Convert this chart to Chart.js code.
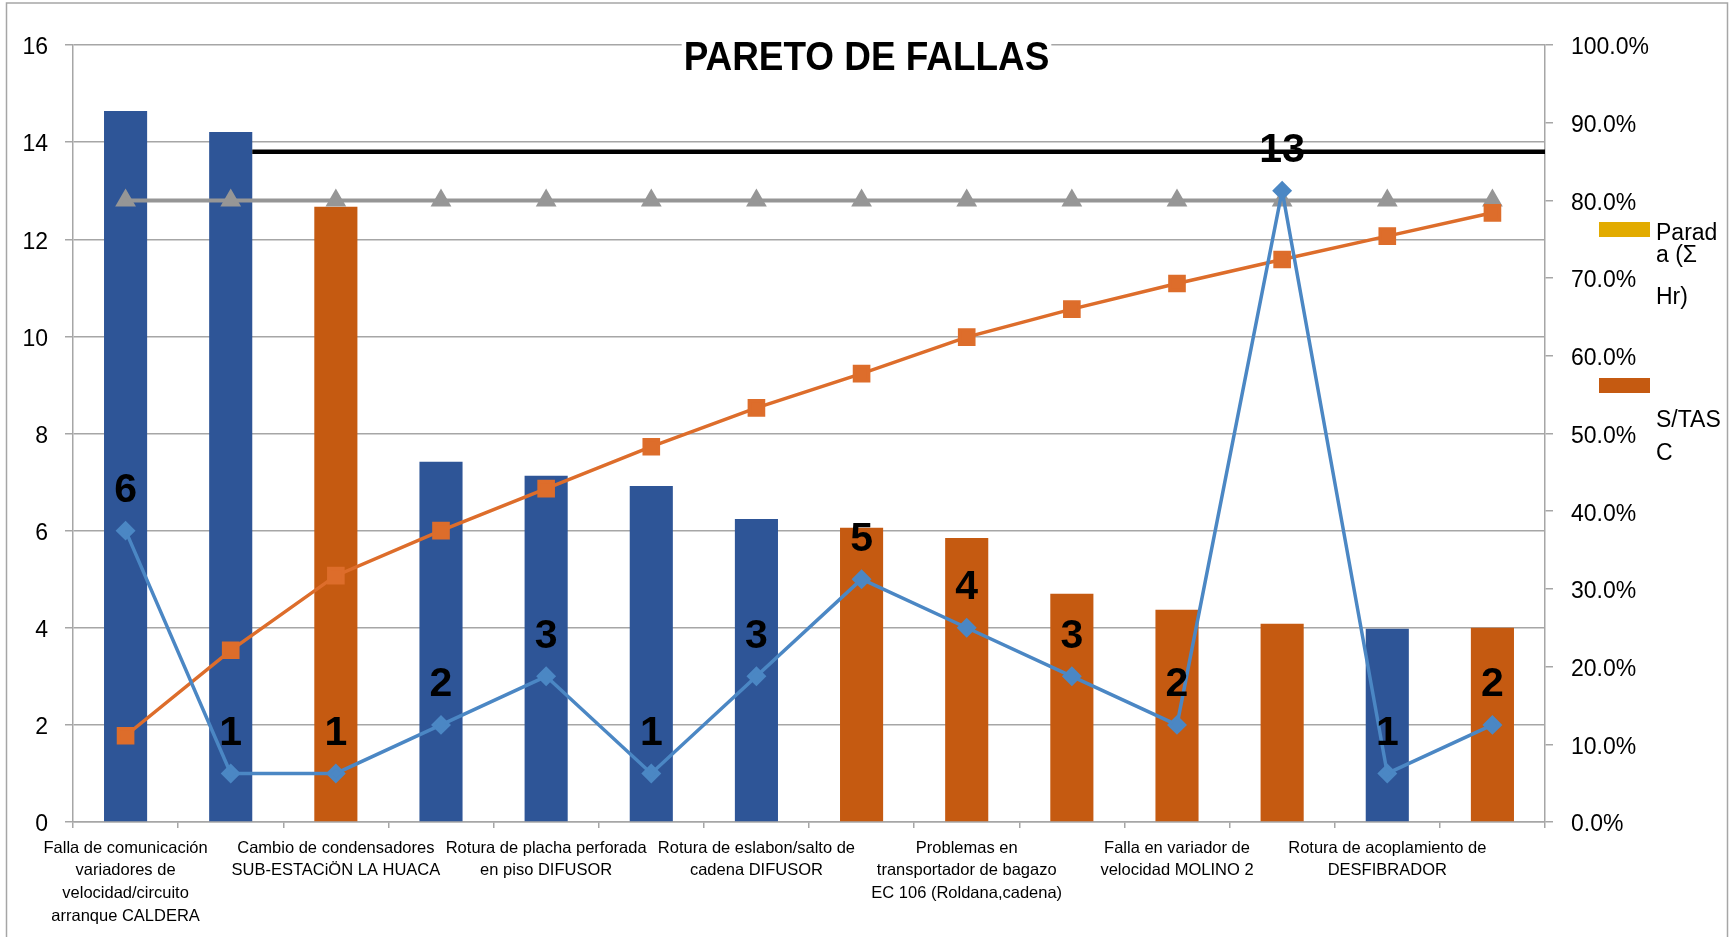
<!DOCTYPE html>
<html><head><meta charset="utf-8">
<script src="https://cdn.jsdelivr.net/npm/chart.js@4.4.0/dist/chart.umd.min.js"></script>
<style>html,body{margin:0;padding:0;background:#fff;overflow:hidden}canvas{display:block}</style>
</head><body>
<canvas id="c" width="1733" height="937"></canvas>
<script>
// ---- data ----
const categorias = [
  ["Falla de comunicación", "variadores de", "velocidad/circuito", "arranque CALDERA"],
  "",
  ["Cambio de condensadores", "SUB-ESTACiÖN LA HUACA"],
  "",
  ["Rotura de placha perforada", "en piso DIFUSOR"],
  "",
  ["Rotura de eslabon/salto de", "cadena DIFUSOR"],
  "",
  ["Problemas en", "transportador de bagazo", "EC 106 (Roldana,cadena)"],
  "",
  ["Falla en variador de", "velocidad MOLINO 2"],
  "",
  ["Rotura de acoplamiento de", "DESFIBRADOR"],
  ""
];
const paradaHoras = [14.64, 14.21, null, 7.42, 7.13, 6.92, 6.24, null, null, null, null, null, 3.98, null];
const stascHoras  = [null, null, 12.67, null, null, null, null, 6.06, 5.85, 4.70, 4.37, 4.08, null, 4.00];
const frecuencia  = [6, 1, 1, 2, 3, 1, 3, 5, 4, 3, 2, 13, 1, 2];
const acumulado   = [0.111, 0.221, 0.317, 0.375, 0.429, 0.483, 0.533, 0.577, 0.624, 0.660, 0.693, 0.724, 0.754, 0.784];
const limite80    = [0.8, 0.8, 0.8, 0.8, 0.8, 0.8, 0.8, 0.8, 0.8, 0.8, 0.8, 0.8, 0.8, 0.8];
const lineaNegra  = 13.8;
const ticksIzq    = [0, 2, 4, 6, 8, 10, 12, 14, 16];
const ticksDer    = [0, 0.1, 0.2, 0.3, 0.4, 0.5, 0.6, 0.7, 0.8, 0.9, 1.0];
const titulo      = "PARETO DE FALLAS";
const leyenda     = [
  {lines: ["Parad", "a (Σ", "Hr)"], color: "#E2AB00"},
  {lines: ["S/TAS", "C"], color: "#C55A11"}
];

const FONT = '"Liberation Sans", Arial, sans-serif';
const GRID = '#A6A6A6';

const extras = {
  id: 'extras',
  beforeDraw(chart) {
    const ctx = chart.ctx;
    ctx.save(); ctx.fillStyle = '#fff'; ctx.fillRect(0, 0, chart.width, chart.height); ctx.restore();
  },
  afterDatasetsDraw(chart) {
    const ctx = chart.ctx, ys = chart.scales.y, area = chart.chartArea;
    const bar = chart.getDatasetMeta(0).data[1];
    const py = ys.getPixelForValue(lineaNegra);
    ctx.save();
    ctx.strokeStyle = '#000'; ctx.lineWidth = 4.5;
    ctx.beginPath(); ctx.moveTo(bar.x + bar.width / 2, py); ctx.lineTo(area.right, py); ctx.stroke();
    const meta = chart.getDatasetMeta(4);
    ctx.font = 'bold 41px ' + FONT; ctx.fillStyle = '#000';
    ctx.textAlign = 'center'; ctx.textBaseline = 'alphabetic';
    meta.data.forEach((p, i) => ctx.fillText(String(frecuencia[i]), p.x, p.y - 28.5));
    ctx.restore();
  },
  afterDraw(chart) {
    const ctx = chart.ctx;
    ctx.save();
    // title with white box (slightly condensed)
    ctx.font = 'bold 41px ' + FONT;
    const sx = 0.9;
    const w = ctx.measureText(titulo).width * sx;
    const cx = chart.width / 2;
    ctx.fillStyle = '#fff'; ctx.fillRect(cx - w / 2 - 2, 38, w + 4, 34);
    ctx.save();
    ctx.translate(cx, 70); ctx.scale(sx, 1);
    ctx.fillStyle = '#000'; ctx.textAlign = 'center'; ctx.textBaseline = 'alphabetic';
    ctx.fillText(titulo, 0, 0);
    ctx.restore();
    // legend
    ctx.font = '23px ' + FONT; ctx.textAlign = 'left'; ctx.textBaseline = 'alphabetic';
    const sw = [[222, [239.5, 262, 304]], [378, [426.5, 460]]];
    leyenda.forEach((it, k) => {
      ctx.fillStyle = it.color; ctx.fillRect(1599, sw[k][0], 51, 15);
      ctx.fillStyle = '#000';
      it.lines.forEach((t, j) => ctx.fillText(t, 1656, sw[k][1][j]));
    });
    // chart border
    ctx.strokeStyle = GRID; ctx.lineWidth = 1.5;
    ctx.strokeRect(6.5, 3, 1721, 950);
    ctx.restore();
  }
};

new Chart(document.getElementById('c'), {
  data: {
    labels: categorias,
    datasets: [
      {type: 'bar', label: 'Parada (Σ Hr)', data: paradaHoras, backgroundColor: '#2E5597', grouped: false,
       categoryPercentage: 1, barPercentage: 0.41, yAxisID: 'y', order: 10},
      {type: 'bar', label: 'S/TASC', data: stascHoras, backgroundColor: '#C55A11', grouped: false,
       categoryPercentage: 1, barPercentage: 0.41, yAxisID: 'y', order: 9},
      {type: 'line', label: '80%', data: limite80, borderColor: '#969696', backgroundColor: '#969696',
       borderWidth: 4, pointStyle: 'triangle', pointRadius: 8, yAxisID: 'y1', order: 3},
      {type: 'line', label: '% acumulado', data: acumulado, borderColor: '#DD6D2B', backgroundColor: '#DD6D2B',
       borderWidth: 3.5, pointStyle: 'rect', pointRadius: 10, yAxisID: 'y1', order: 2},
      {type: 'line', label: 'Frecuencia', data: frecuencia, borderColor: '#4B87C4', backgroundColor: '#4B87C4',
       borderWidth: 3.5, pointStyle: 'rectRot', pointRadius: 7.5, yAxisID: 'y', order: 1}
    ]
  },
  options: {
    responsive: false, animation: false, devicePixelRatio: 1,
    layout: {padding: {top: 45, left: 0, right: 0, bottom: 0}},
    plugins: {legend: {display: false}, tooltip: {enabled: false}, title: {display: false}},
    scales: {
      x: {
        offset: true,
        grid: {display: true, offset: true, drawOnChartArea: false, drawTicks: true, tickLength: 6, color: GRID, lineWidth: 1.5},
        border: {display: true, color: GRID, width: 1.5},
        ticks: {autoSkip: false, maxRotation: 0, minRotation: 0, padding: 9, color: '#000',
                font: {family: FONT, size: 16.5, lineHeight: 1.37}},
        afterFit: s => { s.height = 115; }
      },
      y: {
        position: 'left', min: 0, max: 16,
        afterBuildTicks: s => { s.ticks = ticksIzq.map(v => ({value: v})); },
        grid: {color: GRID, lineWidth: 1.5, drawTicks: true, tickLength: 8},
        border: {display: true, color: GRID, width: 1.5},
        ticks: {padding: 17, labelOffset: 3, color: '#000', font: {family: FONT, size: 23}},
        afterFit: s => { s.width = 73; }
      },
      y1: {
        position: 'right', min: 0, max: 1,
        afterBuildTicks: s => { s.ticks = ticksDer.map(v => ({value: v})); },
        grid: {drawOnChartArea: false, color: GRID, lineWidth: 1.5, drawTicks: true, tickLength: 8},
        border: {display: true, color: GRID, width: 1.5},
        ticks: {padding: 18, labelOffset: 3, color: '#000', font: {family: FONT, size: 23},
                callback: v => (v * 100).toFixed(1) + '%'},
        afterFit: s => { s.width = 188; }
      }
    }
  },
  plugins: [extras]
});
</script>
</body></html>
